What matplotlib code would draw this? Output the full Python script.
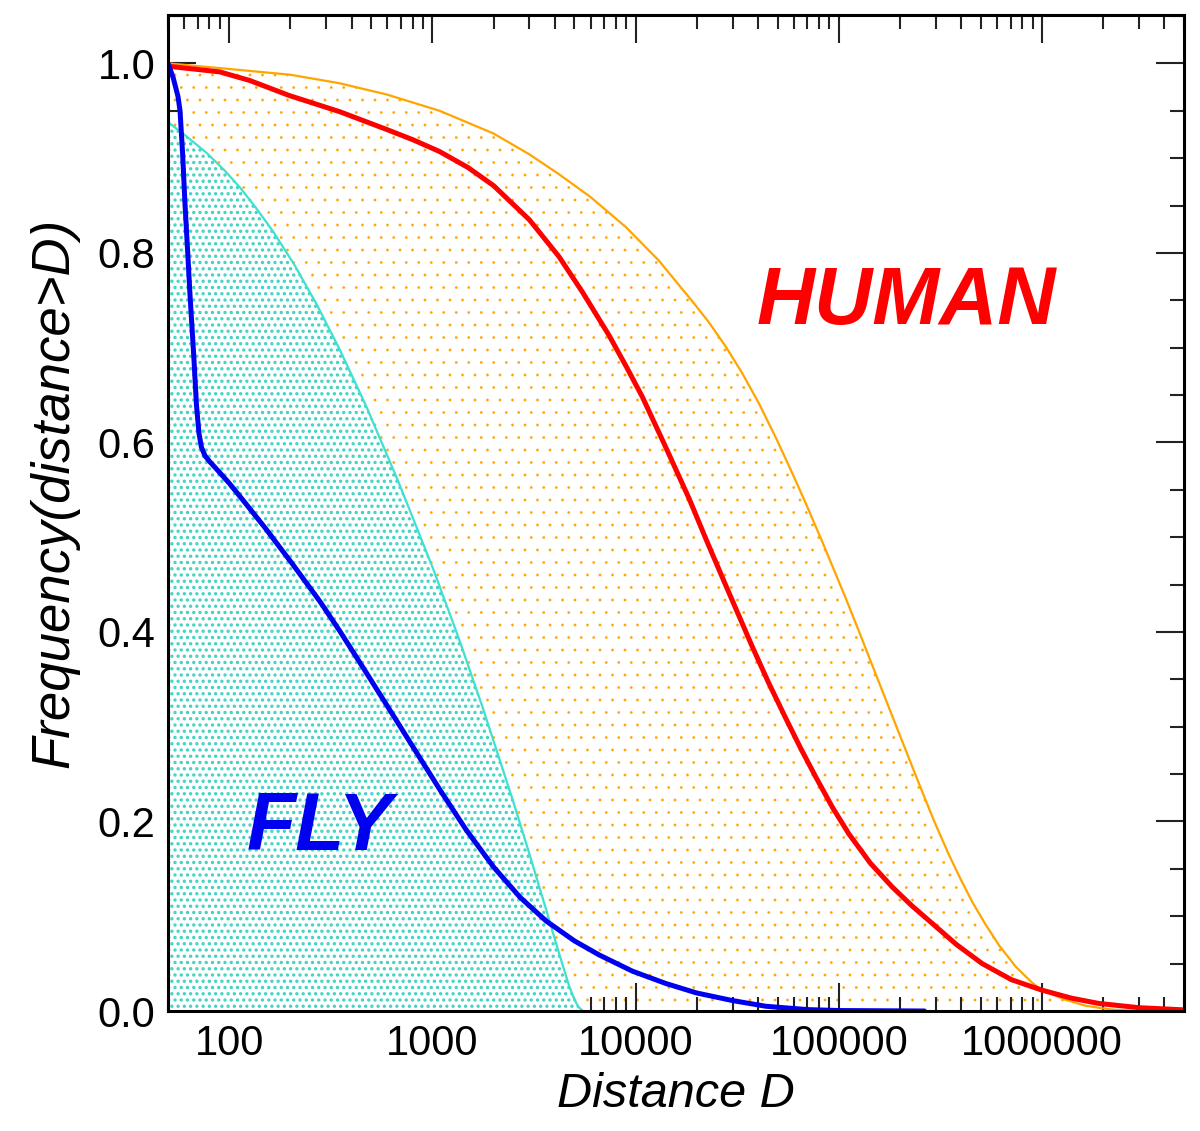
import numpy as np
import matplotlib
matplotlib.use("Agg")
import matplotlib.pyplot as plt
from matplotlib.ticker import FixedLocator, FixedFormatter, LogLocator, MultipleLocator, NullFormatter

plt.rcParams['font.family'] = ['Liberation Sans', 'DejaVu Sans']

# ---- data ----
human_D = [50, 90, 126, 198, 350, 600, 800, 1084, 1500, 2000, 3000, 4200, 5500, 7400, 9000, 10800,
           14000, 18400, 22500, 27800, 37600, 45000, 54800, 65000, 77000, 93000, 112000, 143000,
           183000, 229000, 288000, 380000, 508000, 708000, 1000000, 1400000, 1900000, 3000000, 5000000]
human_F = [0.997, 0.991, 0.982, 0.966, 0.949, 0.93, 0.9195, 0.907, 0.89, 0.871, 0.835, 0.796, 0.758,
           0.713, 0.68, 0.648, 0.596, 0.54, 0.495, 0.449, 0.384, 0.347, 0.309, 0.277, 0.247, 0.215,
           0.187, 0.156, 0.131, 0.111, 0.0925, 0.07, 0.05, 0.033, 0.022, 0.0135, 0.008, 0.0035, 0.0012]

human_rand_D = [50, 90, 200, 350, 600, 1084, 2000, 3000, 4200, 6000, 8980, 13000, 19000, 22900, 27800,
                33500, 40500, 49000, 59200, 68700, 83000, 108000, 126000, 146000, 170000, 198000,
                248000, 295000, 348000, 398000, 454000, 525000, 616000, 741000, 893000, 1000000,
                1300000, 1640000, 2200000, 3000000]
human_rand_F = [1.0, 0.995, 0.988, 0.979, 0.967, 0.95, 0.926, 0.904, 0.883, 0.859, 0.827, 0.792, 0.749,
                0.727, 0.701, 0.673, 0.641, 0.605, 0.567, 0.536, 0.495, 0.436, 0.4, 0.365, 0.329, 0.293,
                0.24, 0.2, 0.165, 0.139, 0.115, 0.092, 0.069, 0.047, 0.03, 0.022, 0.012, 0.0055, 0.0015,
                0.0]

fly_D = [50, 53, 56, 57.3, 59, 60.5, 62.9, 64.1, 67, 69, 71, 73, 76, 80, 90, 100, 117, 150, 206, 280,
         350, 473, 650, 834, 1100, 1468, 2000, 2700, 3630, 5000, 6640, 9660, 14100, 20000, 30000, 43800,
         70000, 100000, 264000]
fly_F = [1.0, 0.985, 0.965, 0.95, 0.905, 0.855, 0.79, 0.757, 0.69, 0.64, 0.61, 0.595, 0.586, 0.58, 0.568,
         0.557, 0.539, 0.51, 0.471, 0.432, 0.401, 0.357, 0.31, 0.273, 0.232, 0.191, 0.152, 0.12, 0.095,
         0.074, 0.059, 0.042, 0.029, 0.019, 0.011, 0.005, 0.0015, 0.0005, 0.0]

fly_rand_D = [50, 60, 77, 95, 113, 135, 164, 210, 269, 350, 473, 676, 1007, 1350, 1770, 2500, 3000,
              3630, 4200, 4700, 5000, 5250, 5500]
fly_rand_F = [0.938, 0.925, 0.906, 0.887, 0.869, 0.848, 0.823, 0.787, 0.746, 0.698, 0.638, 0.56, 0.467,
              0.393, 0.32, 0.221, 0.166, 0.107, 0.061, 0.027, 0.012, 0.004, 0.0]

x_ticks = [100, 1000, 10000, 100000, 1000000]
x_ticklabels = ["100", "1000", "10000", "100000", "1000000"]
y_ticks = [0.0, 0.2, 0.4, 0.6, 0.8, 1.0]
y_ticklabels = ["0.0", "0.2", "0.4", "0.6", "0.8", "1.0"]

ORANGE = '#FFA500'
CYAN_DOT = '#3FD2C4'
CYAN_LINE = '#40E0D0'
RED = '#FF0000'
BLUE = '#0000F0'

DPI = 150
S = 100.0 / DPI   # sizes below are given as if at 100 dpi


def pt(v):
    return v * S


fig = plt.figure(figsize=(1200 / DPI, 1131 / DPI), dpi=DPI)
ax = fig.add_axes([0.14, 0.1061, 0.8467, 0.8806])

# orange dotted area
plt.rcParams['hatch.linewidth'] = pt(0.15)
c1 = ax.fill_between(human_rand_D, human_rand_F, 0, facecolor='none', edgecolor=ORANGE,
                     hatch='..', linewidth=0, zorder=1)
try:
    c1.set_hatch_linewidth(pt(0.15))
except Exception:
    pass

# cyan dotted area
plt.rcParams['hatch.linewidth'] = pt(1.5)
c2 = ax.fill_between(fly_rand_D, fly_rand_F, 0, facecolor='white', edgecolor=CYAN_DOT,
                     hatch='....', linewidth=0, zorder=2)
try:
    c2.set_hatch_linewidth(pt(1.5))
except Exception:
    pass

ax.plot(human_rand_D, human_rand_F, color=ORANGE, lw=pt(1.6), zorder=3, solid_joinstyle='round')
ax.plot(fly_rand_D, fly_rand_F, color=CYAN_LINE, lw=pt(1.6), zorder=3, solid_joinstyle='round')
ax.plot(human_D, human_F, color=RED, lw=pt(3.6), zorder=4, solid_capstyle='round',
        solid_joinstyle='round')
ax.plot(fly_D, fly_F, color=BLUE, lw=pt(3.6), zorder=4, solid_capstyle='round',
        solid_joinstyle='round')

ax.set_xscale('log')
ax.set_xlim(50, 5.0e6)
ax.set_ylim(0, 1.051)

ax.xaxis.set_major_locator(FixedLocator(x_ticks))
ax.xaxis.set_major_formatter(FixedFormatter(x_ticklabels))
ax.xaxis.set_minor_locator(LogLocator(base=10, subs=np.arange(2, 10)))
ax.xaxis.set_minor_formatter(NullFormatter())
ax.yaxis.set_major_locator(FixedLocator(y_ticks))
ax.yaxis.set_major_formatter(FixedFormatter(y_ticklabels))
ax.yaxis.set_minor_locator(MultipleLocator(0.05))

ax.tick_params(which='both', direction='in', top=True, right=True, colors='#222222',
               labelcolor='black')
ax.tick_params(which='major', length=pt(20), width=pt(1.5), labelsize=pt(30), pad=pt(9))
ax.tick_params(which='minor', length=pt(10), width=pt(1.5))
for s in ax.spines.values():
    s.set_linewidth(pt(2.2))
    s.set_zorder(6)

ax.set_xlabel('Distance D', fontsize=pt(35), style='italic', labelpad=pt(6))
ax.set_ylabel('Frequency(distance>D)', fontsize=pt(38), style='italic')
ax.yaxis.set_label_coords(-0.087, 0.52)

ax.text(0.727, 0.711, 'HUMAN', transform=ax.transAxes, color=RED, fontsize=pt(58),
        fontweight='bold', style='italic', ha='center', va='center', zorder=7)
ax.text(0.149, 0.183, 'FLY', transform=ax.transAxes, color=BLUE, fontsize=pt(58),
        fontweight='bold', style='italic', ha='center', va='center', zorder=7)

fig.savefig('out.png', dpi=DPI, facecolor='white')
